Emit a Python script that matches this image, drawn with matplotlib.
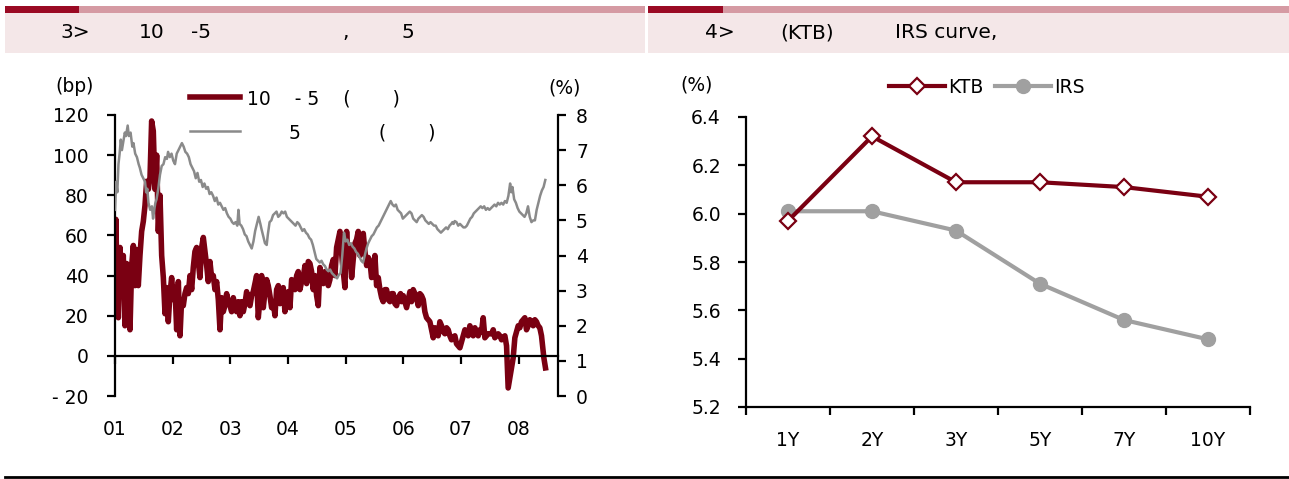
import matplotlib
matplotlib.use("Agg")
import matplotlib.pyplot as plt
from matplotlib.patches import Rectangle
from matplotlib.lines import Line2D
from matplotlib.ticker import FixedLocator, FuncFormatter

plt.rcParams['font.family'] = ['DejaVu Sans']

# ---------------- data ----------------
# 10y-5y spread (bp), decimal years
spread_year = [
    2001.000, 2001.015, 2001.029, 2001.058, 2001.087, 2001.116, 2001.144, 2001.173, 2001.202, 2001.231,
    2001.260, 2001.289, 2001.318, 2001.347, 2001.375, 2001.404, 2001.433, 2001.462, 2001.491, 2001.520,
    2001.549, 2001.578, 2001.607, 2001.635, 2001.664, 2001.693, 2001.722, 2001.751, 2001.780, 2001.809,
    2001.838, 2001.867, 2001.895, 2001.924, 2001.953, 2001.982, 2002.011, 2002.040, 2002.069, 2002.098,
    2002.127, 2002.155, 2002.184, 2002.213, 2002.242, 2002.271, 2002.300, 2002.329, 2002.357, 2002.386,
    2002.415, 2002.444, 2002.473, 2002.502, 2002.531, 2002.560, 2002.589, 2002.617, 2002.646, 2002.675,
    2002.704, 2002.733, 2002.762, 2002.791, 2002.820, 2002.848, 2002.877, 2002.906, 2002.935, 2002.964,
    2002.993, 2003.022, 2003.051, 2003.080, 2003.108, 2003.137, 2003.166, 2003.195, 2003.224, 2003.253,
    2003.282, 2003.311, 2003.340, 2003.369, 2003.397, 2003.426, 2003.455, 2003.484, 2003.513, 2003.542,
    2003.571, 2003.600, 2003.629, 2003.657, 2003.686, 2003.715, 2003.744, 2003.773, 2003.802, 2003.831,
    2003.860, 2003.888, 2003.917, 2003.946, 2003.975, 2004.004, 2004.033, 2004.062, 2004.091, 2004.120,
    2004.149, 2004.177, 2004.206, 2004.235, 2004.264, 2004.293, 2004.322, 2004.351, 2004.380, 2004.408,
    2004.437, 2004.466, 2004.495, 2004.524, 2004.553, 2004.582, 2004.611, 2004.640, 2004.669, 2004.697,
    2004.726, 2004.755, 2004.784, 2004.813, 2004.842, 2004.900, 2004.940, 2004.986, 2005.015, 2005.044,
    2005.073, 2005.102, 2005.130, 2005.159, 2005.188, 2005.217, 2005.246, 2005.275, 2005.304, 2005.333,
    2005.362, 2005.391, 2005.420, 2005.448, 2005.477, 2005.506, 2005.535, 2005.564, 2005.593, 2005.622,
    2005.650, 2005.679, 2005.708, 2005.737, 2005.766, 2005.795, 2005.824, 2005.853, 2005.882, 2005.911,
    2005.950, 2005.968, 2005.997, 2006.055, 2006.084, 2006.113, 2006.141, 2006.170, 2006.199, 2006.228,
    2006.257, 2006.286, 2006.315, 2006.344, 2006.372, 2006.401, 2006.459, 2006.488, 2006.517, 2006.546,
    2006.574, 2006.603, 2006.632, 2006.661, 2006.690, 2006.719, 2006.748, 2006.777, 2006.805, 2006.834,
    2006.863, 2006.892, 2006.921, 2006.950, 2006.979, 2007.008, 2007.037, 2007.066, 2007.094, 2007.123,
    2007.152, 2007.181, 2007.210, 2007.239, 2007.268, 2007.297, 2007.325, 2007.354, 2007.383, 2007.412,
    2007.470, 2007.528, 2007.557, 2007.585, 2007.614, 2007.643, 2007.672, 2007.701, 2007.730, 2007.759,
    2007.788, 2007.816, 2007.845, 2007.903, 2007.932, 2007.990, 2008.018, 2008.047, 2008.076, 2008.105,
    2008.134, 2008.163, 2008.192, 2008.221, 2008.250, 2008.279, 2008.307, 2008.336, 2008.365, 2008.394,
    2008.435, 2008.463,
]
spread_bp = [
    20, 68, 45, 19, 54, 35, 50, 15, 46, 35,
    13, 45, 55, 35, 53, 35, 50, 62, 67, 75,
    87, 83, 89, 117, 112, 83, 100, 62, 80, 50,
    39, 21, 34, 17, 31, 39, 28, 34, 13, 37,
    10, 28, 25, 31, 34, 31, 40, 33, 44, 52,
    54, 47, 39, 54, 59, 52, 45, 37, 47, 39,
    40, 33, 37, 28, 13, 29, 22, 25, 31, 27,
    25, 22, 29, 24, 22, 27, 20, 27, 22, 26,
    32, 28, 25, 30, 32, 36, 40, 19, 28, 40,
    24, 32, 38, 35, 30, 24, 27, 20, 33, 35,
    26, 30, 34, 22, 28, 32, 24, 38, 35, 33,
    40, 42, 33, 37, 39, 45, 36, 47, 46, 42,
    33, 40, 30, 25, 44, 38, 36, 42, 41, 35,
    38, 45, 48, 40, 54, 62, 47, 34, 62, 45,
    54, 39, 48, 56, 58, 62, 50, 59, 61, 52,
    45, 49, 47, 39, 42, 50, 35, 39, 33, 29,
    27, 33, 33, 28, 27, 31, 31, 26, 25, 29,
    31, 27, 30, 24, 28, 32, 27, 33, 31, 29,
    25, 31, 30, 28, 22, 19, 17, 13, 9, 14,
    12, 10, 17, 15, 12, 11, 14, 13, 10, 8,
    9, 10, 6, 5, 4, 7, 10, 13, 12, 10,
    15, 13, 10, 14, 12, 10, 13, 12, 19, 9,
    11, 11, 13, 9, 10, 11, 10, 8, 9, 10,
    5, -16, -11, -1, 9, 15, 14, 17, 18, 19,
    13, 15, 18, 17, 15, 18, 17, 15, 14, 10,
    -1, -6,
]

# 5-year government bond yield (%), decimal years
yield_year = [
    2001.00, 2001.02, 2001.04, 2001.06, 2001.08, 2001.10, 2001.12, 2001.14, 2001.17, 2001.19,
    2001.22, 2001.24, 2001.27, 2001.30, 2001.32, 2001.35, 2001.38, 2001.41, 2001.43, 2001.46,
    2001.49, 2001.52, 2001.54, 2001.56, 2001.58, 2001.61, 2001.64, 2001.66, 2001.68, 2001.70,
    2001.72, 2001.75, 2001.78, 2001.81, 2001.84, 2001.87, 2001.90, 2001.92, 2001.95, 2001.98,
    2002.01, 2002.04, 2002.07, 2002.10, 2002.13, 2002.16, 2002.19, 2002.22, 2002.25, 2002.28,
    2002.31, 2002.34, 2002.37, 2002.40, 2002.43, 2002.46, 2002.49, 2002.52, 2002.55, 2002.58,
    2002.61, 2002.64, 2002.67, 2002.70, 2002.73, 2002.76, 2002.79, 2002.82, 2002.85, 2002.88,
    2002.91, 2002.94, 2002.97, 2003.00, 2003.03, 2003.06, 2003.09, 2003.12, 2003.14, 2003.16,
    2003.19, 2003.22, 2003.25, 2003.28, 2003.31, 2003.34, 2003.37, 2003.40, 2003.43, 2003.46,
    2003.49, 2003.52, 2003.54, 2003.57, 2003.60, 2003.63, 2003.65, 2003.68, 2003.71, 2003.74,
    2003.77, 2003.80, 2003.83, 2003.86, 2003.89, 2003.92, 2003.95, 2003.98, 2004.01, 2004.04,
    2004.07, 2004.10, 2004.13, 2004.16, 2004.19, 2004.22, 2004.25, 2004.28, 2004.31, 2004.34,
    2004.37, 2004.40, 2004.43, 2004.46, 2004.49, 2004.52, 2004.55, 2004.58, 2004.61, 2004.64,
    2004.67, 2004.70, 2004.73, 2004.76, 2004.79, 2004.82, 2004.85, 2004.88, 2004.91, 2004.94,
    2004.97, 2005.00, 2005.03, 2005.06, 2005.09, 2005.12, 2005.15, 2005.18, 2005.21, 2005.24,
    2005.27, 2005.30, 2005.33, 2005.36, 2005.39, 2005.42, 2005.45, 2005.48, 2005.51, 2005.54,
    2005.57, 2005.60, 2005.63, 2005.66, 2005.69, 2005.72, 2005.75, 2005.78, 2005.81, 2005.84,
    2005.87, 2005.90, 2005.93, 2005.96, 2005.99, 2006.02, 2006.05, 2006.08, 2006.11, 2006.14,
    2006.17, 2006.20, 2006.23, 2006.26, 2006.29, 2006.32, 2006.35, 2006.38, 2006.41, 2006.44,
    2006.47, 2006.50, 2006.53, 2006.56, 2006.59, 2006.62, 2006.65, 2006.68, 2006.71, 2006.74,
    2006.77, 2006.80, 2006.83, 2006.85, 2006.87, 2006.89, 2006.92, 2006.95, 2006.98, 2007.01,
    2007.04, 2007.07, 2007.10, 2007.13, 2007.16, 2007.19, 2007.22, 2007.25, 2007.28, 2007.31,
    2007.34, 2007.37, 2007.40, 2007.43, 2007.46,
]
yield_pct = [
    5.30, 6.10, 5.80, 6.60, 6.90, 7.30, 7.00, 7.20, 7.50, 7.40,
    7.70, 7.40, 7.50, 7.10, 7.20, 6.90, 6.80, 6.60, 6.50, 6.30,
    6.20, 6.10, 5.80, 5.90, 5.50, 5.30, 5.40, 5.05, 5.30, 5.50,
    5.60, 5.90, 6.30, 6.55, 6.60, 6.80, 6.75, 6.95, 6.80, 6.90,
    6.70, 6.60, 6.90, 7.00, 7.10, 7.20, 7.10, 6.95, 6.90, 6.80,
    6.60, 6.50, 6.40, 6.20, 6.35, 6.10, 6.15, 5.95, 6.05, 5.90,
    5.95, 5.75, 5.80, 5.70, 5.55, 5.65, 5.45, 5.50, 5.40, 5.30,
    5.35, 5.20, 5.10, 5.05, 4.95, 4.90, 4.95, 4.85, 5.30, 4.90,
    4.85, 4.75, 4.60, 4.55, 4.40, 4.30, 4.20, 4.40, 4.70, 4.90,
    5.10, 4.90, 4.75, 4.55, 4.35, 4.30, 4.60, 4.95, 5.00, 5.15,
    5.20, 5.25, 5.10, 5.15, 5.25, 5.20, 5.25, 5.10, 5.05, 5.00,
    4.95, 4.90, 4.85, 4.95, 4.90, 4.80, 4.70, 4.75, 4.65, 4.60,
    4.50, 4.45, 4.30, 4.10, 3.90, 3.85, 3.80, 3.85, 3.75, 3.70,
    3.60, 3.55, 3.60, 3.50, 3.45, 3.40, 3.35, 3.45, 3.50, 4.00,
    4.65, 4.40, 4.45, 4.30, 4.35, 4.25, 4.20, 4.10, 4.05, 3.95,
    3.85, 3.80, 4.00, 4.20, 4.35, 4.45, 4.55, 4.60, 4.70, 4.80,
    4.85, 4.95, 5.05, 5.15, 5.25, 5.35, 5.45, 5.55, 5.45, 5.40,
    5.45, 5.30, 5.25, 5.20, 5.05, 5.10, 5.15, 5.20, 5.25, 5.20,
    5.05, 5.00, 4.95, 5.05, 5.10, 5.15, 5.10, 5.00, 4.95, 4.90,
    4.95, 4.90, 4.85, 4.85, 4.75, 4.70, 4.65, 4.70, 4.75, 4.80,
    4.75, 4.85, 4.90, 4.95, 4.90, 4.98, 4.95, 4.85, 4.90, 4.85,
    4.80, 4.80, 4.85, 4.95, 5.05, 5.10, 5.20, 5.25, 5.30, 5.35,
    5.40, 5.35, 5.40, 5.30, 5.35,
]
# second half of 2007 through mid-2008
yield_year += [
    2007.49, 2007.52, 2007.55, 2007.58, 2007.61, 2007.64, 2007.67, 2007.70, 2007.73, 2007.76,
    2007.79, 2007.82, 2007.85, 2007.87, 2007.89, 2007.92, 2007.95, 2007.98, 2008.01, 2008.04,
    2008.07, 2008.10, 2008.13, 2008.16, 2008.19, 2008.22, 2008.25, 2008.28, 2008.31, 2008.34,
    2008.37, 2008.40, 2008.43, 2008.46,
]
yield_pct += [
    5.30, 5.35, 5.40, 5.45, 5.40, 5.50, 5.45, 5.50, 5.45, 5.55,
    5.50, 5.70, 6.05, 5.80, 5.95, 5.60, 5.50, 5.35, 5.25, 5.20,
    5.15, 5.10, 5.20, 5.40, 5.10, 4.95, 5.00, 5.00, 5.30, 5.50,
    5.70, 5.85, 5.95, 6.15,
]

year_ticks = [2001, 2002, 2003, 2004, 2005, 2006, 2007, 2008]
year_labels = ["01", "02", "03", "04", "05", "06", "07", "08"]

tenors = ["1Y", "2Y", "3Y", "5Y", "7Y", "10Y"]
ktb = [5.97, 6.32, 6.13, 6.13, 6.11, 6.07]
irs = [6.01, 6.01, 5.93, 5.71, 5.56, 5.48]

# ---------------- styling ----------------
W, H = 1289, 479
DARK = "#7A0012"
BAR_DARK = "#9A0A24"
BAR_PINK = "#D59AA3"
BOX_PINK = "#F4E7E8"
GRAY_LINE = "#8A8A8A"
IRS_GRAY = "#A0A0A0"
FS = 13.5

fig = plt.figure(figsize=(W / 100, H / 100), dpi=100)


def fx(x):
    return x / W


def fy(y):
    return 1 - y / H


def rect(x0, y0, x1, y1, color):
    fig.patches.append(Rectangle((fx(x0), fy(y1)), fx(x1 - x0), (y1 - y0) / H,
                                 transform=fig.transFigure, color=color, lw=0, zorder=0))


# header strips
rect(5, 6, 79, 13, BAR_DARK)
rect(79, 6, 645, 13, BAR_PINK)
rect(5, 13, 645, 53, BOX_PINK)
rect(648, 6, 723, 13, BAR_DARK)
rect(723, 6, 1289, 13, BAR_PINK)
rect(648, 13, 1289, 53, BOX_PINK)

HFS = 14.5
for x, s in [(60, "3>"), (139, "10"), (191, "-5"), (342, ","), (401, "5")]:
    fig.text(fx(x), fy(33), s, fontsize=HFS, va="center", ha="left")
for x, s in [(705, "4>"), (780, "(KTB)"), (895, "IRS curve,")]:
    fig.text(fx(x), fy(33), s, fontsize=HFS, va="center", ha="left")

# bottom rule
fig.add_artist(Line2D([fx(5), fx(1289)], [fy(477), fy(477)], color="black", lw=2,
                      transform=fig.transFigure))

# ---------------- left chart ----------------
ax1 = fig.add_axes([fx(115), fy(396), (558 - 115) / W, (396 - 115) / H])
ax2 = ax1.twinx()

l1, = ax1.plot(spread_year, spread_bp, color=DARK, lw=4.0, solid_joinstyle="round")
l2, = ax2.plot(yield_year, yield_pct, color=GRAY_LINE, lw=1.8)

ax1.set_xlim(2001, 2008.68)
ax1.set_ylim(-20, 120)
ax2.set_ylim(0, 8)

ax1.set_yticks(range(-20, 121, 20))
ax1.yaxis.set_major_formatter(FuncFormatter(lambda v, p: f"- {abs(int(v))}" if v < 0 else f"{int(v)}"))
ax2.set_yticks(range(0, 9))
ax1.set_xticks(year_ticks)
ax1.set_xticklabels(year_labels)

for sp in ["top", "right"]:
    ax1.spines[sp].set_visible(False)
for sp in ["top", "left", "bottom"]:
    ax2.spines[sp].set_visible(False)
ax1.spines["bottom"].set_position(("data", 0))
for sp in [ax1.spines["left"], ax1.spines["bottom"], ax2.spines["right"]]:
    sp.set_linewidth(1.6)

ax1.tick_params(axis="y", direction="out", length=6, width=1.6, labelsize=FS, pad=13)
ax1.tick_params(axis="x", direction="out", length=6, width=1.6, labelsize=FS, pad=40)
ax2.tick_params(axis="y", direction="out", length=6, width=1.6, labelsize=FS, pad=7)

fig.text(fx(75), fy(87), "(bp)", fontsize=FS, ha="center", va="center")
fig.text(fx(565), fy(88), "(%)", fontsize=FS, ha="center", va="center")

leg1 = ax1.legend([l1, l2], ["10    - 5    (       )", "       5             (       )"],
                  loc="upper left", bbox_to_anchor=(fx(190), fy(89)), bbox_transform=fig.transFigure,
                  frameon=False, fontsize=FS, handlelength=2.67, handletextpad=0.37,
                  labelspacing=0.8, borderpad=0, borderaxespad=0)
leg1.set_zorder(5)

# ---------------- right chart ----------------
ax3 = fig.add_axes([fx(746), fy(407), (1250 - 746) / W, (407 - 117) / H])
xs = list(range(len(tenors)))
k, = ax3.plot(xs, ktb, color=DARK, lw=3.0, marker="D", markersize=8,
              markerfacecolor="white", markeredgecolor=DARK, markeredgewidth=1.6, zorder=3)
i, = ax3.plot(xs, irs, color=IRS_GRAY, lw=3.0, marker="o", markersize=10,
              markerfacecolor=IRS_GRAY, markeredgecolor=IRS_GRAY, zorder=2)
ax3.set_xlim(-0.5, len(tenors) - 0.5)
ax3.set_ylim(5.2, 6.4)
ax3.set_yticks([5.2, 5.4, 5.6, 5.8, 6.0, 6.2, 6.4])
ax3.yaxis.set_major_formatter(FuncFormatter(lambda v, p: f"{v:.1f}"))
ax3.set_xticks(xs)
ax3.set_xticklabels(tenors)
ax3.xaxis.set_minor_locator(FixedLocator([x - 0.5 for x in range(len(tenors) + 1)]))
ax3.tick_params(axis="x", which="major", length=0, labelsize=FS, pad=17.5)
ax3.tick_params(axis="x", which="minor", direction="out", length=6, width=1.6)
ax3.tick_params(axis="y", direction="out", length=6, width=1.6, labelsize=FS, pad=12)
for sp in ["top", "right"]:
    ax3.spines[sp].set_visible(False)
for sp in ["left", "bottom"]:
    ax3.spines[sp].set_linewidth(1.6)

fig.text(fx(697), fy(85), "(%)", fontsize=FS, ha="center", va="center")
ax3.legend([k, i], ["KTB", "IRS"], loc="upper left", ncol=2,
           bbox_to_anchor=(fx(889), fy(78)), bbox_transform=fig.transFigure,
           frameon=False, fontsize=FS, handlelength=3.0, handletextpad=0.15,
           columnspacing=0.6, borderpad=0, borderaxespad=0)

fig.savefig("out.png", dpi=100)
